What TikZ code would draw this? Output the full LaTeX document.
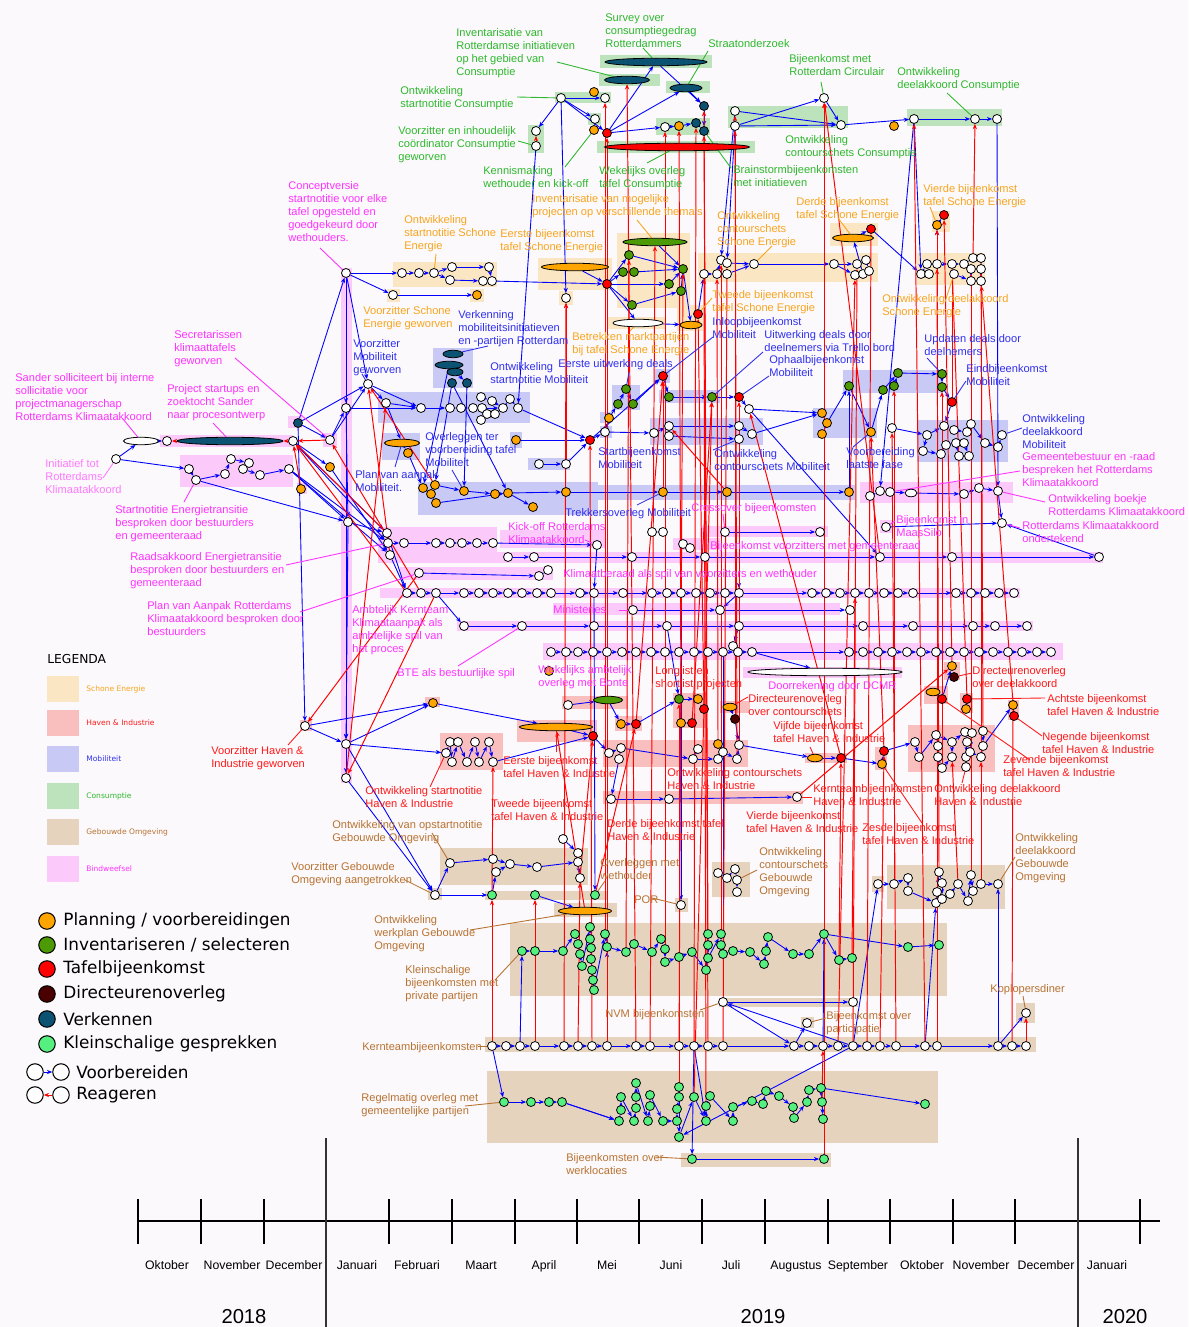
\documentclass[tikz,border=0pt]{standalone}
\usepackage{fontspec}
\setmainfont{Liberation Sans}
\newfontfamily\legfont{DejaVu Sans}
\usetikzlibrary{arrows.meta, positioning, shapes.geometric}

\definecolor{pagebg}{HTML}{FBF9FB}
\definecolor{seband}{HTML}{FBE6C4}
\definecolor{hiband}{HTML}{F9BEBE}
\definecolor{moband}{HTML}{C9C9F5}
\definecolor{coband}{HTML}{BCE3BC}
\definecolor{goband}{HTML}{E6D3BE}
\definecolor{biband}{HTML}{FBCAFB}
\definecolor{setx}{HTML}{F8A51E}
\definecolor{hitx}{HTML}{FF1A1A}
\definecolor{motx}{HTML}{3030F0}
\definecolor{cotx}{HTML}{2EB82E}
\definecolor{gotx}{HTML}{B87333}
\definecolor{bitx}{HTML}{FF33FF}
\definecolor{oranjefill}{HTML}{FFA500}
\definecolor{groenfill}{HTML}{4C9A06}
\definecolor{roodfill}{HTML}{FF0000}
\definecolor{donkerfill}{HTML}{4A0000}
\definecolor{verkfill}{HTML}{0B5273}
\definecolor{kleinfill}{HTML}{55F07F}
\definecolor{lijnblauw}{HTML}{0000FF}
\definecolor{lijnrood}{HTML}{FF0000}

\pgfdeclarelayer{banden}
\pgfdeclarelayer{lijnen}
\pgfsetlayers{banden,lijnen,main}

\begin{document}
\begin{tikzpicture}[
    x=0.02cm, y=-0.02cm,
    every node/.style={inner sep=0pt},
    punt/.style={circle, draw, line width=0.45pt, minimum size=0.18cm},
    wit/.style={punt, fill=white},
    oranje/.style={punt, fill=oranjefill},
    groen/.style={punt, fill=groenfill},
    rood/.style={punt, fill=roodfill},
    donker/.style={punt, fill=donkerfill},
    verk/.style={punt, fill=verkfill},
    klein/.style={punt, fill=kleinfill},
    ovaal/.style={ellipse, draw, line width=0.45pt, minimum height=0.15cm},
    lab/.style={anchor=north west, align=left, font=\fontsize{6.3}{7.4}\selectfont},
    voorb/.style={lijnblauw, line width=0.5pt, -{Stealth[length=3pt, width=2.4pt]}},
    reag/.style={lijnrood, line width=0.55pt, -{Stealth[length=3pt, width=2.4pt]}},
    wijzer/.style={line width=0.5pt},
    legcirkel/.style={circle, draw, line width=0.6pt, minimum size=0.33cm},
    legtekst/.style={anchor=west, font=\legfont\fontsize{9.6}{12}\selectfont},
    maand/.style={anchor=base, font=\fontsize{7}{8}\selectfont},
    jaar/.style={anchor=base, font=\fontsize{11.5}{13}\selectfont}
]
\useasboundingbox (0,0) rectangle (1188,1327);

% achtergrond en banden
\begin{pgfonlayer}{banden}
\fill[pagebg] (0,0) rectangle (1188,1327);
\foreach \a/\b/\c/\d in {600/55/712/68, 599/74/660/86, 666/81/710/93, 555/92/611/103, 528/125/544/153,
    656/118/710/135, 597/141/755/153, 728/106/848/128, 907/109/1002/126, 588/113/601/125}
  \fill[coband] (\a,\b) rectangle (\c,\d);
\foreach \a/\b/\c/\d in {393/262/497/287, 538/258/612/290, 387/289/400/302, 470/289/484/302, 559/291/573/305,
    617/233/690/308, 608/317/665/329, 677/305/703/331, 698/253/878/282, 830/223/878/246, 932/211/950/232, 917/253/985/285}
  \fill[seband] (\a,\b) rectangle (\c,\d);
\foreach \a/\b/\c/\d in {378/392/530/423, 433/348/473/388, 382/433/420/460, 418/482/598/515, 598/485/855/500,
    612/385/640/410, 600/412/612/423, 600/426/612/438, 659/390/720/403, 650/418/763/445, 813/408/877/438,
    843/370/943/393, 917/420/1008/462, 528/458/570/470, 510/432/522/448, 655/369/670/383}
  \fill[moband] (\a,\b) rectangle (\c,\d);
\foreach \a/\b/\c/\d in {341/268/352/783, 160/435/293/447, 180/455/293/487, 288/416/302/428, 323/433/337/447,
    297/483/307/494, 378/527/497/552, 500/530/605/548, 378/552/1103/563, 673/538/720/550, 860/482/1013/503,
    700/526/828/537, 400/567/553/580, 380/588/1020/598, 553/603/840/615, 457/621/1033/631, 543/643/1063/660,
    743/667/902/678, 880/520/892/533}
  \fill[biband] (\a,\b) rectangle (\c,\d);
\foreach \a/\b/\c/\d in {300/720/312/731, 425/697/440/707, 440/733/503/770, 517/720/597/742, 562/696/628/709,
    615/716/642/731, 673/693/707/728, 720/701/750/713, 603/740/748/767, 603/791/803/804, 944/662/960/680,
    924/686/948/704, 960/693/973/713, 1008/700/1019/720, 908/725/995/772, 805/753/847/763, 875/747/887/770}
  \fill[hiband] (\a,\b) rectangle (\c,\d);
\foreach \a/\b/\c/\d in {428/888/442/900, 440/848/588/885, 485/891/608/900, 554/903/617/917, 675/898/688/912,
    712/862/750/897, 872/876/884/892, 887/865/1005/909, 510/923/947/996, 719/998/858/1007, 801/1017/814/1028,
    1016/1003/1035/1023, 485/1037/1036/1052, 487/1071/938/1143, 681/1153/831/1167}
  \fill[goband] (\a,\b) rectangle (\c,\d);
\end{pgfonlayer}

% Consumptie
\node[wit] (c1) at (561,98) {};
\node[oranje] (c2) at (594,92) {};
\node[wit] (c3) at (605,98) {};
\node[wit] (c4) at (536,131) {};
\node[wit] (c5) at (536,146) {};
\node[wit] (c6) at (595,119) {};
\node[oranje] (c7) at (594,130) {};
\node[rood] (c8) at (607,133) {};
\node[verk] (c9) at (704,106) {};
\node[wit] (c10) at (665,127) {};
\node[oranje] (c11) at (679,126) {};
\node[verk] (c12) at (696,123) {};
\node[verk] (c13) at (704,131) {};
\node[wit] (c14) at (735,111) {};
\node[wit] (c15) at (735,126) {};
\node[wit] (c16) at (824,98) {};
\node[wit] (c17) at (841,125) {};
\node[oranje] (c18) at (894,126) {};
\node[wit] (c19) at (914,119) {};
\node[wit] (c20) at (975,119) {};
\node[wit] (c21) at (997,119) {};
\node[ovaal, fill=verkfill, minimum width=2.04cm] (ce1) at (656,62) {};
\node[ovaal, fill=verkfill, minimum width=0.9cm] (ce2) at (627,80) {};
\node[ovaal, fill=verkfill, minimum width=0.64cm] (ce3) at (686,88) {};
\node[ovaal, fill=roodfill, minimum width=2.9cm] (ce4) at (677,147) {};

% Schone Energie
\node[wit] (bt) at (346,273) {};
\foreach \x/\y [count=\i from 2] in {402/273,419/273,434/273,450/280,452/267,483/281,489/267,492/281}
  \node[wit] (s\i) at (\x,\y) {};
\node[wit] (s10) at (393,295) {};
\node[oranje] (s11) at (477,295) {};
\node[wit] (s12) at (566,298) {};
\foreach \x/\y [count=\i from 13] in {629/255,623/272,634/272,683/269,669/284,681/291,632/305}
  \node[groen] (s\i) at (\x,\y) {};
\node[rood] (s20) at (607,284) {};
\node[rood] (s21) at (698,314) {};
\foreach \x/\y [count=\i from 22] in {704/274,717/274,721/260,727/263,727/274,754/264,834/264,855/275,857/264,863/274,866/260,869/271}
  \node[wit] (s\i) at (\x,\y) {};
\node[rood] (s34) at (871,229) {};
\node[rood] (s35) at (944,215) {};
\node[oranje] (s36) at (937,225) {};
\foreach \x/\y [count=\i from 37] in {921/274,927/264,929/274,937/264,952/264,954/274,964/264,971/269,971/281,973/258,981/258,981/269,981/281}
  \node[wit] (s\i) at (\x,\y) {};
\node[ovaal, fill=oranjefill, minimum width=1.34cm] (se1) at (575,267) {};
\node[ovaal, fill=groenfill, minimum width=1.28cm] (se2) at (655,242) {};
\node[ovaal, fill=white, minimum width=1.0cm] (se3) at (638,323) {};
\node[ovaal, fill=oranjefill, minimum width=0.44cm] (se4) at (691,325) {};
\node[ovaal, fill=oranjefill, minimum width=0.82cm] (se5) at (853,238) {};

% Mobiliteit
\node[wit] (m1) at (368,384) {};
\node[wit] (m2) at (346,408) {};
\node[wit] (m3) at (386,403) {};
\foreach \x/\y [count=\i from 4] in {421/408,450/408,461/408,473/408,482/408,481/397,492/401,487/414,495/414,481/420,503/408,510/399,518/408}
  \node[wit] (m\i) at (\x,\y) {};
\node[verk] (m17) at (452,383) {};
\node[verk] (m18) at (467,383) {};
\node[ovaal, fill=verkfill, minimum width=0.4cm] (me1) at (453,354) {};
\node[ovaal, fill=verkfill, minimum width=0.56cm] (me2) at (449,365) {};
\node[ovaal, fill=verkfill, minimum width=0.32cm] (me3) at (455,372) {};
\node[ovaal, fill=oranjefill, minimum width=0.7cm] (me4) at (402,443) {};
\node[oranje] (m19) at (408,453) {};
\foreach \x/\y [count=\i from 20] in {423/488,435/485,431/494,436/503,464/491,495/494,508/493,533/507,516/440,566/492,663/492,727/492,849/492}
  \node[oranje] (m\i) at (\x,\y) {};
\node[wit] (m33) at (539,464) {};
\node[wit] (m34) at (566,464) {};
\node[rood] (m35) at (590,440) {};
\node[wit] (m36) at (605,432) {};
\node[oranje] (m37) at (609,418) {};
\node[groen] (m38) at (618,404) {};
\node[groen] (m39) at (626,389) {};
\node[groen] (m40) at (633,404) {};
\node[rood] (m41) at (663,376) {};
\node[groen] (m42) at (669,397) {};
\node[groen] (m43) at (712,397) {};
\node[rood] (m44) at (739,397) {};
\node[wit] (m45) at (749,409) {};
\foreach \x/\y [count=\i from 46] in {654/433,669/426,669/436,739/426,739/439,752/434}
  \node[wit] (m\i) at (\x,\y) {};
\foreach \x/\y [count=\i from 52] in {822/413,827/423,822/434,871/432}
  \node[oranje] (m\i) at (\x,\y) {};
\foreach \x/\y [count=\i from 56] in {849/386,898/373,883/390,894/386,942/374,942/387}
  \node[groen] (m\i) at (\x,\y) {};
\node[rood] (m62) at (952,402) {};
\node[wit] (m63) at (892,428) {};
\foreach \x/\y [count=\i from 64] in {927/435,923/451,941/454,944/426,946/445,954/430,956/443,959/456,967/432,964/443,969/456,971/424,985/443,998/447,1002/435}
  \node[wit] (m\i) at (\x,\y) {};

% Bindweefsel
\node[ovaal, fill=white, minimum width=0.7cm] (be1) at (141,441) {};
\node[wit] (b1) at (167,441) {};
\node[ovaal, fill=verkfill, minimum width=2.12cm] (be2) at (230,441) {};
\node[wit] (b2) at (293,441) {};
\node[verk] (b3) at (298,423) {};
\node[wit] (b4) at (116,459) {};
\foreach \x/\y [count=\i from 5] in {189/469,196/480,225/474,231/459,249/463,243/469,260/475,289/469}
  \node[wit] (b\i) at (\x,\y) {};
\node[oranje] (b13) at (301,489) {};
\node[wit] (b14) at (348,522) {};
\node[wit] (b15) at (330,440) {};
\node[oranje] (b16) at (330,467) {};
\foreach \x/\y [count=\i from 18] in {387/533,388/543,390/555,404/543,436/543,450/543,462/543,477/543,493/543,597/545,652/532,663/532,683/544,690/548}
  \node[wit] (b\i) at (\x,\y) {};
\foreach \x [count=\i from 32] in {508,534,632,705,880,952,1099}
  \node[wit] (b\i) at (\x,557) {};
\foreach \x/\y [count=\i from 39] in {870/496,880/491,890/492}
  \node[wit] (b\i) at (\x,\y) {};
\node[ovaal, fill=white, minimum width=0.24cm] (be3) at (911,493) {};
\foreach \x/\y [count=\i from 42] in {964/494,979/488,998/491,1002/523,886/527,725/532,820/532,419/573,539/576,548/570}
  \node[wit] (b\i) at (\x,\y) {};
\node[wit] (b55) at (733,646) {};
\node[oranje] (b56) at (549,671) {};
\node[ovaal, fill=white, minimum width=3.08cm] (be4) at (825,672) {};
\foreach \x [count=\i] in {407,421,436,464,479,493,508,522,537,551,580,594,623,652,667,681,696,710,725,739,812,826,840,855,869,884,898,913,956,971,985,999,1014}
  \node[wit] (r\i) at (\x,593) {};
\foreach \x [count=\i] in {633,720,850}
  \node[wit] (mi\i) at (\x,610) {};
\foreach \x [count=\i] in {464,522,594,667,739,863,913,973,995,1027}
  \node[wit] (q\i) at (\x,626) {};
\foreach \x [count=\i] in {551,566,578,593,607,622,636,651,665,679,694,708,723,738,752,849,863,878,892,907,921,936,950,964,979,993,1008,1022,1037,1051}
  \node[wit] (p\i) at (\x,652) {};

% Haven & Industrie
\node[wit] (h1) at (305,726) {};
\node[wit] (h2) at (346,744) {};
\node[wit] (h3) at (346,778) {};
\node[oranje] (h4) at (433,703) {};
\foreach \x/\y [count=\i from 5] in {446/753,450/742,458/742,452/762,467/762,475/742,479/762,489/742,493/762}
  \node[wit] (h\i) at (\x,\y) {};
\node[ovaal, fill=oranjefill, minimum width=1.46cm] (he1) at (556,727) {};
\node[rood] (h14) at (593,736) {};
\node[ovaal, fill=groenfill, minimum width=0.58cm] (he2) at (608,700) {};
\node[wit] (h15) at (568,705) {};
\node[oranje] (h16) at (621,724) {};
\node[rood] (h17) at (636,724) {};
\foreach \x/\y [count=\i from 18] in {609/753,621/748,619/759,611/799,669/799}
  \node[wit] (h\i) at (\x,\y) {};
\node[groen] (h23) at (679,699) {};
\node[oranje] (h24) at (698,699) {};
\node[rood] (h25) at (704,709) {};
\node[oranje] (h26) at (681,723) {};
\node[rood] (h27) at (692,723) {};
\node[ovaal, fill=oranjefill, minimum width=0.28cm] (he3) at (730,707) {};
\node[donker] (h28) at (735,719) {};
\node[oranje] (h29) at (718,744) {};
\foreach \x/\y [count=\i from 30] in {698/749,693/759,718/759,723/752,737/759,739/745}
  \node[wit] (h\i) at (\x,\y) {};
\node[oranje] (h36) at (952,666) {};
\node[donker] (h37) at (954,677) {};
\node[ovaal, fill=oranjefill, minimum width=0.28cm] (he4) at (933,692) {};
\node[rood] (h38) at (942,699) {};
\node[rood] (h39) at (967,699) {};
\node[oranje] (h40) at (966,709) {};
\node[oranje] (h41) at (1013,705) {};
\node[rood] (h42) at (1014,716) {};
\foreach \x/\y [count=\i from 43] in {915/742,919/757,936/735,938/746,938/757,942/768,952/742,952/757,965/732,967/742,972/733,966/757,966/767,970/752,981/757,983/731,983/746}
  \node[wit] (h\i) at (\x,\y) {};
\node[ovaal, fill=oranjefill, minimum width=0.3cm] (he5) at (815,758) {};
\node[rood] (h60) at (841,758) {};
\node[rood] (h61) at (884,751) {};
\node[oranje] (h62) at (882,764) {};
\node[wit] (h63) at (797,797) {};

% Gebouwde Omgeving
\foreach \x/\y [count=\i] in {450/863,493/859,496/872,510/864,537/867,578/853,578/862,580/878,563/839}
  \node[wit] (g\i) at (\x,\y) {};
\node[wit] (g10) at (435,895) {};
\node[klein] (g11) at (492,895) {};
\node[klein] (g12) at (535,895) {};
\node[klein] (g13) at (595,895) {};
\node[ovaal, fill=oranjefill, minimum width=1.06cm] (ge1) at (585,911) {};
\node[wit] (g14) at (681,905) {};
\foreach \x/\y [count=\i from 15] in {718/873,727/878,735/869,737/880,737/892,878/884,894/884,908/878,908/891,936/903,937/892,939/872,942/883,942/899,950/894,958/884,968/901,971/875,973/891,981/884,998/884,723/1002,853/1002,807/1023,1026/1013}
  \node[wit] (g\i) at (\x,\y) {};
\foreach \x/\y [count=\i] in {522/951,535/951,563/951,575/934,578/944,580/954,582/966,590/927,590/939,591/948,591/959,592/970,593/980,594/990,605/934,607/947,626/952,634/944,652/952,661/939,665/949,665/962,679/957,692/952,706/970,708/934,708/945,708/958,721/934,721/945,723/954,733/951,750/952,764/964,766/951,768/937,793/954,809/954,824/934,839/960,852/958,908/947,939/945}
  \node[klein] (ks\i) at (\x,\y) {};
\foreach \x/\y [count=\i] in {504/1102,531/1102,549/1102,562/1102,619/1121,621/1110,621/1097,634/1121,636/1108,636/1097,636/1083,648/1121,650/1106,650/1095,663/1121,677/1121,677/1109,679/1097,679/1087,679/1137,694/1097,706/1121,706/1106,710/1096,733/1121,733/1107,752/1101,763/1104,766/1091,779/1096,793/1107,794/1118,807/1102,809/1090,821/1088,822/1102,823/1119,925/1104}
  \node[klein] (rg\i) at (\x,\y) {};
\foreach \x [count=\i] in {492,506,520,535,564,578,592,607,636,650,679,694,708,723,794,809,823,838,853,867,880,896,925,937,998,1012,1026}
  \node[wit] (kt\i) at (\x,1046) {};
\node[klein] (w1) at (692,1159) {};
\node[klein] (w2) at (824,1159) {};

% verbindingen
\begin{pgfonlayer}{lijnen}
\foreach \i [remember=\i as \j (initially 1)] in {2,...,33} \draw[voorb] (r\j) -- (r\i);
\foreach \i [remember=\i as \j (initially 1)] in {2,...,10} \draw[voorb] (q\j) -- (q\i);
\foreach \i [remember=\i as \j (initially 1)] in {2,...,30} \draw[voorb] (p\j) -- (p\i);
\foreach \i [remember=\i as \j (initially 1)] in {2,...,27} \draw[voorb] (kt\j) -- (kt\i);
\foreach \i [remember=\i as \j (initially 1)] in {2,...,41} \draw[voorb] (ks\j) -- (ks\i);
\foreach \i [remember=\i as \j (initially 1)] in {2,...,37} \draw[voorb] (rg\j) -- (rg\i);
\foreach \i [remember=\i as \j (initially 20)] in {21,...,35} \draw[voorb] (g\j) -- (g\i);
\foreach \a/\b in {be1/b1, b4/be1, b4/b5, b5/b6, b6/b7, b7/b8, b8/b9, b9/b10, b10/b11, b11/b12, b6/b14,
    b3/bt, b3/m1, b3/b15, b3/h1, b2/b16, b2/b18, b2/b19, b12/b14, b12/b19, b12/b20, b15/m2, b15/m1,
    bt/m2, m2/b14, b14/h2, h2/h3, bt/h2, bt/s2, b14/b18, b19/b21, b21/b22, b22/b23, b23/b24, b24/b25,
    b25/b26, b20/r1, b26/b27, b32/b33, b33/b34, b34/b35, b35/b36, b36/b37, b37/b38, b47/b48, b39/b40,
    b40/b41, b41/be3, be3/b42, b42/b43, b43/b44, b44/b45, b46/b45, b49/b50, b50/b51, r3/q1, mi1/mi2,
    mi2/mi3, b16/b20, b18/r1, b27/r12, b30/b31, b28/b29, b38/b45, q5/b55, b55/p14, r20/mi2, p15/be4,
    r12/g13, r16/g14, q4/h23, p13/ks31, m45/b36, m50/r20}
  \draw[voorb] (\a) -- (\b);
\foreach \a/\b in {c1/c3, c1/c4, c1/c6, c1/c8, c6/c7, c8/ce1, c8/ce3, ce1/c9, ce3/c9, c9/c13, c8/c10,
    c10/c11, c11/c12, c12/c13, c14/c17, c15/c16, c15/c17, c16/c17, c17/c19, c19/c20, c20/c21, c1/s12,
    c5/m16, c15/s25, c19/s37, c19/b40, c21/b44, c14/s24}
  \draw[voorb] (\a) -- (\b);
\foreach \a/\b in {s2/s3, s3/s4, s4/s6, s4/s5, s5/s7, s6/s8, s8/s9, s7/s9, s10/s11, s9/s20, se1/s20,
    s20/s13, s20/s14, s14/s15, s20/s17, s20/s19, s13/s16, s15/s16, s17/s16, s19/s18, s18/s16, se2/s16,
    s20/se3, se3/se4, s16/se4, s21/s22, s22/s23, s23/s24, s24/s25, s25/s27, s26/s27, s27/s28, s28/s29,
    s29/s31, s28/s30, s30/s32, s32/s33, s31/s33, s31/se5, se5/s34, s34/s37, s37/s38, s38/s40, s40/s41,
    s41/s43, s43/s44, s44/s45, s43/s46, s46/s47, s47/s48, s48/s49, s40/s36, s36/s35, s42/s45, bt/s10}
  \draw[voorb] (\a) -- (\b);
\foreach \a/\b in {m2/m4, m1/m4, m1/m3, m3/m4, m4/m5, m5/m6, m6/m7, m7/m8, m8/m14, m9/m10, m10/m14,
    m11/m12, m13/m11, m14/m15, m15/m16, m16/m35, m17/m21, m18/m24, me2/m20, m20/m22, m22/m23, m21/m24,
    m24/m25, m25/m26, m26/m27, m23/m26, m19/m20, m28/m35, m33/m34, m34/m35, m26/m29, m29/m30, m30/m31,
    m31/m32, m35/m36, m36/m37, m37/m38, m38/m39, m39/m40, m40/m41, m41/m42, m42/m43, m43/m44, m44/m45,
    m45/m52, m46/m47, m47/m49, m48/m50, m49/m51, m51/m52, m52/m53, m53/m54, m53/m56, m56/m55, m55/m58,
    m58/m57, m59/m57, m57/m60, m60/m61, m61/m62, m32/m56, m63/m64, m64/m67, m67/m69, m69/m72, m72/m75,
    m64/m65, m65/m66, m66/m68, m68/m70, m70/m71, m71/m74, m73/m74, m70/m73, m76/m77, m77/m78, m75/m76,
    m62/m67, bt/m1, m3/me4, me4/m19, m17/m26, me3/m18, m35/m41, m36/m46}
  \draw[voorb] (\a) -- (\b);
\foreach \a/\b in {h1/h2, h1/h4, h2/h4, h2/h5, h3/g10, h4/he1, h5/h6, h6/h8, h8/h7, h7/h9, h9/h10,
    h10/h11, h11/h12, h12/h13, h13/h14, he1/h14, h15/he2, he2/h16, h16/h17, h17/h23, h23/h24, h26/h27,
    he3/h28, h28/h35, h29/h33, h30/h31, h31/h32, h32/h33, h33/h34, h34/h35, h18/h19, h19/h20, h19/h31,
    h21/h22, h22/h63, h35/he5, he5/h60, h60/h62, h61/h43, h62/h61, h43/h44, h44/h45, h45/h46, h46/h47,
    h47/h48, h48/h50, h49/h50, h45/h49, h49/h51, h51/h52, h52/h54, h53/h56, h54/h55, h56/h57, h57/h59,
    h58/h59, h59/h41, he4/h38, h38/h36, h40/h39, h14/h18, h20/h21, h2/g10}
  \draw[voorb] (\a) -- (\b);
\foreach \a/\b in {g10/g11, g10/g1, g1/g2, g2/g4, g3/g4, g4/g5, g5/g7, g6/g7, g7/g8, g9/g6, g11/g3,
    g15/g16, g16/g17, g17/g18, g18/g19, g36/g37, g36/kt15, kt15/g38, kt25/g39, kt19/g20, kt23/g24,
    kt25/g35, kt1/rg1, rg4/rg5, kt12/w1, w1/w2, kt19/rg20, kt3/ks1, kt8/ks16, ks39/ks42, ks42/ks43,
    rg35/rg38, kt17/ks39, kt12/rg22, kt19/g36, g12/ge1}
  \draw[voorb] (\a) -- (\b);
\foreach \a/\b in {be2/b1, b2/be2, b15/b2, b13/b2, b18/b2, r1/b2, r3/h3, b49/h1, c5/c4,
    kt1/g11, g11/h13, kt4/g12, kt5/s12, kt6/g8, kt7/m35, kt8/c8, kt9/ce2, kt10/se2, kt11/s16,
    kt12/c12, kt13/c13, kt14/s25, w2/c16, b36/c16, kt18/s29, kt19/s30, kt20/s34, kt23/c19,
    kt24/s36, kt26/h41, kt27/g39, s46/c20, m34/s12, m30/m41, m31/m47, h35/m44, h36/s35, h39/s41,
    h42/s49, g8/h14, h17/m41, h25/s21, h27/m43, h60/m45, h61/m55, m62/s41, kt21/h61, kt22/m63,
    h28/c15, b20/m1, r2/b15, h3/m3, m21/m1, g13/h17, rg36/kt17, h63/h36,
    ks17/s13, ks21/c10, ks26/c9, ks29/s24, h26/c11, h29/s23, rg18/h23, rg21/m43, h34/c14,
    ge1/he1, ks15/c3, rg23/s22, g32/s44, g30/h50, g26/s40, g21/m59, h48/m61, h57/s48, h58/s47,
    g34/h57, ks40/h60, ks41/r24}
  \draw[reag] (\a) -- (\b);
\end{pgfonlayer}

% teksten Bindweefsel
\node[lab, text=bitx] (lb1) at (288,181) {Conceptversie\\startnotitie voor elke\\tafel opgesteld en\\goedgekeurd door\\wethouders.};
\node[lab, text=bitx] (lb2) at (174,330) {Secretarissen\\klimaattafels\\geworven};
\node[lab, text=bitx] (lb3) at (15,373) {Sander solliciteert bij interne\\sollicitatie voor\\projectmanagerschap\\Rotterdams Klimaatakkoord};
\node[lab, text=bitx] (lb4) at (167,384) {Project startups en\\zoektocht Sander\\naar procesontwerp};
\node[lab, text=bitx!65] (lb5) at (45,459) {Initiatief tot\\Rotterdams\\Klimaatakkoord};
\node[lab, text=bitx] (lb6) at (115,505) {Startnotitie Energietransitie\\besproken door bestuurders\\en gemeenteraad};
\node[lab, text=bitx] (lb7) at (130,552) {Raadsakkoord Energietransitie\\besproken door bestuurders en\\gemeenteraad};
\node[lab, text=bitx] (lb8) at (147,601) {Plan van Aanpak Rotterdams\\Klimaatakkoord besproken door\\bestuurders};
\node[lab, text=bitx] (lb9) at (352,605) {Ambtelijk Kernteam\\Klimaataanpak als\\ambtelijke spil van\\het proces};
\node[lab, text=bitx] (lb10) at (397,668) {BTE als bestuurlijke spil};
\node[lab, text=bitx] (lb11) at (508,522) {Kick-off Rotterdams\\Klimaatakkoord};
\node[lab, text=bitx] (lb12) at (691,503) {Crossover bijeenkomsten};
\node[lab, text=bitx] (lb13) at (710,541) {Bijeenkomst voorzitters met gemeenteraad};
\node[lab, text=bitx] (lb14) at (563,569) {Klimaatberaad als spil van voorzitters en wethouder};
\node[lab, text=bitx] (lb15) at (553,605) {Ministeries};
\node[lab, text=bitx] (lb16) at (538,665) {Wekelijks ambtelijk\\overleg met Bonte};
\node[lab, text=bitx] (lb17) at (768,681) {Doorrekening door DCMR};
\node[lab, text=bitx] (lb18) at (1022,452) {Gemeentebestuur en -raad\\bespreken het Rotterdams\\Klimaatakkoord};
\node[lab, text=bitx] (lb19) at (1048,494) {Ontwikkeling boekje\\Rotterdams Klimaatakkoord};
\node[lab, text=bitx] (lb20) at (1022,521) {Rotterdams Klimaatakkoord\\ondertekend};
\node[lab, text=bitx] (lb21) at (896,515) {Bijeenkomst in\\MaasSilo};

% teksten Consumptie
\node[lab, text=cotx] (lc1) at (456,28) {Inventarisatie van\\Rotterdamse initiatieven\\op het gebied van\\Consumptie};
\node[lab, text=cotx] (lc2) at (605,13) {Survey over\\consumptiegedrag\\Rotterdammers};
\node[lab, text=cotx] (lc3) at (708,39) {Straatonderzoek};
\node[lab, text=cotx] (lc4) at (789,54) {Bijeenkomst met\\Rotterdam Circulair};
\node[lab, text=cotx] (lc5) at (897,67) {Ontwikkeling\\deelakkoord Consumptie};
\node[lab, text=cotx] (lc6) at (400,86) {Ontwikkeling\\startnotitie Consumptie};
\node[lab, text=cotx] (lc7) at (398,126) {Voorzitter en inhoudelijk\\coördinator Consumptie\\geworven};
\node[lab, text=cotx] (lc8) at (483,166) {Kennismaking\\wethouder en kick-off};
\node[lab, text=cotx] (lc9) at (599,166) {Wekelijks overleg\\tafel Consumptie};
\node[lab, text=cotx] (lc10) at (785,135) {Ontwikkeling\\contourschets Consumptie};
\node[lab, text=cotx] (lc11) at (733,165) {Brainstormbijeenkomsten\\met initiatieven};

% teksten Schone Energie
\node[lab, text=setx] (ls1) at (532,194) {Inventarisatie van mogelijke\\projecten op verschillende thema's};
\node[lab, text=setx] (ls2) at (404,215) {Ontwikkeling\\startnotitie Schone\\Energie};
\node[lab, text=setx] (ls3) at (500,229) {Eerste bijeenkomst\\tafel Schone Energie};
\node[lab, text=setx] (ls4) at (717,211) {Ontwikkeling\\contourschets\\Schone Energie};
\node[lab, text=setx] (ls5) at (796,197) {Derde bijeenkomst\\tafel Schone Energie};
\node[lab, text=setx] (ls6) at (923,184) {Vierde bijeenkomst\\tafel Schone Energie};
\node[lab, text=setx] (ls7) at (712,290) {Tweede bijeenkomst\\tafel Schone Energie};
\node[lab, text=setx] (ls8) at (882,294) {Ontwikkeling deelakkoord\\Schone Energie};
\node[lab, text=setx] (ls9) at (363,306) {Voorzitter Schone\\Energie geworven};
\node[lab, text=setx] (ls10) at (572,332) {Betrekken marktpartijen\\bij tafel Schone Energie};

% teksten Mobiliteit
\node[lab, text=motx] (lm1) at (353,339) {Voorzitter\\Mobiliteit\\geworven};
\node[lab, text=motx] (lm2) at (458,310) {Verkenning\\mobiliteitsinitiatieven\\en -partijen Rotterdam};
\node[lab, text=motx] (lm3) at (490,362) {Ontwikkeling\\startnotitie Mobiliteit};
\node[lab, text=motx] (lm4) at (558,359) {Eerste uitwerking deals};
\node[lab, text=motx] (lm5) at (425,432) {Overleggen ter\\voorbereiding tafel\\Mobiliteit};
\node[lab, text=motx] (lm6) at (355,470) {Plan van aanpak\\Mobiliteit.};
\node[lab, text=motx] (lm7) at (598,447) {Startbijeenkomst\\Mobiliteit};
\node[lab, text=motx] (lm8) at (565,508) {Trekkersoverleg Mobiliteit};
\node[lab, text=motx] (lm9) at (712,317) {Inloopbijeenkomst\\Mobiliteit};
\node[lab, text=motx] (lm10) at (764,330) {Uitwerking deals door\\deelnemers via Trello bord};
\node[lab, text=motx] (lm11) at (769,355) {Ophaalbijeenkomst\\Mobiliteit};
\node[lab, text=motx] (lm12) at (714,449) {Ontwikkeling\\contourschets Mobiliteit};
\node[lab, text=motx] (lm13) at (846,447) {Voorbereiding\\laatste fase};
\node[lab, text=motx] (lm14) at (924,334) {Updaten deals door\\deelnemers};
\node[lab, text=motx] (lm15) at (966,364) {Eindbijeenkomst\\Mobiliteit};
\node[lab, text=motx] (lm16) at (1022,414) {Ontwikkeling\\deelakkoord\\Mobiliteit};

% teksten Haven & Industrie
\node[lab, text=hitx] (lh1) at (211,746) {Voorzitter Haven \&\\Industrie geworven};
\node[lab, text=hitx] (lh2) at (365,786) {Ontwikkeling startnotitie\\Haven \& Industrie};
\node[lab, text=hitx] (lh3) at (503,756) {Eerste bijeenkomst\\tafel Haven \& Industrie};
\node[lab, text=hitx] (lh4) at (491,799) {Tweede bijeenkomst\\tafel Haven \& Industrie};
\node[lab, text=hitx] (lh5) at (607,819) {Derde bijeenkomst tafel\\Haven \& Industrie};
\node[lab, text=hitx] (lh6) at (667,768) {Ontwikkeling contourschets\\Haven \& Industrie};
\node[lab, text=hitx] (lh7) at (655,666) {Longlist en\\shortlist projecten};
\node[lab, text=hitx] (lh8) at (748,694) {Directeurenoverleg\\over contourschets};
\node[lab, text=hitx] (lh9) at (773,721) {Vijfde bijeenkomst\\tafel Haven \& Industrie};
\node[lab, text=hitx] (lh10) at (813,784) {Kernteambijeenkomsten\\Haven \& Industrie};
\node[lab, text=hitx] (lh11) at (746,811) {Vierde bijeenkomst\\tafel Haven \& Industrie};
\node[lab, text=hitx] (lh12) at (862,823) {Zesde bijeenkomst\\tafel Haven \& Industrie};
\node[lab, text=hitx] (lh13) at (934,784) {Ontwikkeling deelakkoord\\Haven \& Industrie};
\node[lab, text=hitx] (lh14) at (972,666) {Directeurenoverleg\\over deelakkoord};
\node[lab, text=hitx] (lh15) at (1047,694) {Achtste bijeenkomst\\tafel Haven \& Industrie};
\node[lab, text=hitx] (lh16) at (1042,732) {Negende bijeenkomst\\tafel Haven \& Industrie};
\node[lab, text=hitx] (lh17) at (1003,755) {Zevende bijeenkomst\\tafel Haven \& Industrie};

% teksten Gebouwde Omgeving
\node[lab, text=gotx] (lg1) at (332,820) {Ontwikkeling van opstartnotitie\\Gebouwde Omgeving};
\node[lab, text=gotx] (lg2) at (291,862) {Voorzitter Gebouwde\\Omgeving aangetrokken};
\node[lab, text=gotx] (lg3) at (600,858) {Overleggen met\\wethouder};
\node[lab, text=gotx] (lg4) at (759,847) {Ontwikkeling\\contourschets\\Gebouwde\\Omgeving};
\node[lab, text=gotx] (lg5) at (1015,833) {Ontwikkeling\\deelakkoord\\Gebouwde\\Omgeving};
\node[lab, text=gotx] (lg6) at (374,915) {Ontwikkeling\\werkplan Gebouwde\\Omgeving};
\node[lab, text=gotx] (lg7) at (405,965) {Kleinschalige\\bijeenkomsten met\\private partijen};
\node[lab, text=gotx] (lg8) at (634,895) {POR};
\node[lab, text=gotx] (lg9) at (605,1009) {NVM bijeenkomsten};
\node[lab, text=gotx] (lg10) at (826,1011) {Bijeenkomst over\\participatie};
\node[lab, text=gotx] (lg11) at (990,984) {Koplopersdiner};
\node[lab, text=gotx] (lg12) at (362,1042) {Kernteambijeenkomsten};
\node[lab, text=gotx] (lg13) at (361,1093) {Regelmatig overleg met\\gemeentelijke partijen};
\node[lab, text=gotx] (lg14) at (566,1153) {Bijeenkomsten over\\werklocaties};

% verwijslijnen
\begin{pgfonlayer}{lijnen}
\foreach \x/\y/\doel/\kl [count=\i] in {320/248/bt/bitx, 235/358/b15/bitx, 123/419/be1/bitx, 213/423/be2/bitx,
    103/478/b4/bitx!65, 184/502/b6/bitx, 286/565/b19/bitx, 300/612/b49/bitx, 458/666/q2/bitx, 585/540/b27/bitx,
    723/514/b47/bitx, 619/610/mi1/bitx, 1020/471/b41/bitx, 1045/502/b44/bitx, 1020/528/b45/bitx, 895/521/b46/bitx,
    643/48/ce1/cotx, 557/62/ce2/cotx, 708/51/ce3/cotx, 517/97/c1/cotx, 518/141/c5/cotx, 565/167/c7/cotx,
    647/163/ce4/cotx, 731/168/c13/cotx, 821/82/c16/cotx, 947/93/c20/cotx,
    436/254/s4/setx, 637/220/se2/setx, 772/246/s27/setx, 838/218/se5/setx, 930/207/s36/setx, 712/298/s21/setx,
    945/302/s42/setx, 630/331/se3/setx,
    362/374/m1/motx, 488/346/me1/motx, 629/372/m39/motx, 452/470/m24/motx, 395/467/me4/motx, 637/505/m30/motx,
    713/337/m41/motx, 763/352/m43/motx, 769/376/m44/motx, 713/450/m50/motx, 853/447/m55/motx, 927/358/m60/motx,
    966/381/m62/motx, 1022/428/m78/motx,
    288/745/h1/hitx, 430/787/h5/hitx, 556/752/he1/hitx, 748/697/he3/hitx, 810/747/he5/hitx, 812/797/h63/hitx,
    922/823/h62/hitx, 962/783/h55/hitx, 972/673/h37/hitx, 1045/698/h39/hitx, 1042/736/h42/hitx, 1030/760/h38/hitx,
    432/833/g1/gotx, 405/880/g10/gotx, 605/881/g13/gotx, 757/870/g18/gotx, 1015/857/g35/gotx, 470/930/ge1/gotx,
    495/980/ks1/gotx, 652/898/g14/gotx, 700/1010/g36/gotx, 826/1018/g38/gotx, 1023/996/g39/gotx,
    478/1046/kt1/gotx, 465/1106/rg1/gotx, 656/1157/w1/gotx}
{
  \coordinate (wz\i) at (\x,\y);
  \draw[wijzer, draw=\kl] (wz\i) -- (\doel);
}
\end{pgfonlayer}

% legenda
\node[anchor=west, font=\legfont\fontsize{7}{8}\selectfont] (legkop) at (47,659) {LEGENDA};
\foreach \kl/\tx/\t/\y [count=\i] in {seband/setx/{Schone Energie}/689, hiband/hitx/{Haven \& Industrie}/723,
    moband/motx/{Mobiliteit}/759, coband/cotx/{Consumptie}/796, goband/gotx/{Gebouwde Omgeving}/832, biband/bitx/{Bindweefsel}/869}
{
  \node[fill=\kl, minimum width=0.64cm, minimum height=0.53cm] (vlak\i) at (63,\y) {};
  \node[anchor=west, text=\tx, font=\legfont\fontsize{4.3}{5}\selectfont] (vlaktekst\i) at (86,\y) {\t};
}
\foreach \kl/\t/\y [count=\i] in {oranjefill/{Planning / voorbereidingen}/921, groenfill/{Inventariseren / selecteren}/945,
    roodfill/{Tafelbijeenkomst}/969, donkerfill/{Directeurenoverleg}/994, verkfill/{Verkennen}/1019, kleinfill/{Kleinschalige gesprekken}/1044}
{
  \node[legcirkel, fill=\kl] (legc\i) at (47,\y) {};
  \node[legtekst] (legt\i) at (63,\y) {\t};
}
\node[legcirkel, fill=white] (va) at (35,1072) {};
\node[legcirkel, fill=white] (vb) at (61,1072) {};
\draw[voorb] (va) -- (vb);
\node[legtekst] (vtekst) at (76,1072) {Voorbereiden};
\node[legcirkel, fill=white] (ra) at (35,1095) {};
\node[legcirkel, fill=white] (rb) at (61,1095) {};
\draw[reag] (rb) -- (ra);
\node[legtekst] (rtekst) at (76,1095) {Reageren};

% tijdlijn
\draw[line width=1.1pt] (138,1221) -- (1160,1221);
\foreach \x in {138,201,264,326,389,452,515,577,639,702,765,828,890,953,1015,1078,1140}
  \draw[line width=0.6pt] (\x,1199) -- (\x,1244);
\draw[line width=0.6pt, black!80] (326,1138) -- (326,1327);
\draw[line width=0.6pt, black!80] (1078,1138) -- (1078,1327);
\foreach \x/\t [count=\i] in {167/Oktober, 232/November, 294/December, 357/Januari, 417/Februari, 481/Maart,
    544/April, 607/Mei, 671/Juni, 731/Juli, 796/Augustus, 858/September, 922/Oktober, 981/November,
    1046/December, 1107/Januari}
  \node[maand] (maand\i) at (\x,1269) {\t};
\node[jaar] (j2018) at (244,1323) {2018};
\node[jaar] (j2019) at (763,1323) {2019};
\node[jaar] (j2020) at (1125,1323) {2020};
\end{tikzpicture}
\end{document}
